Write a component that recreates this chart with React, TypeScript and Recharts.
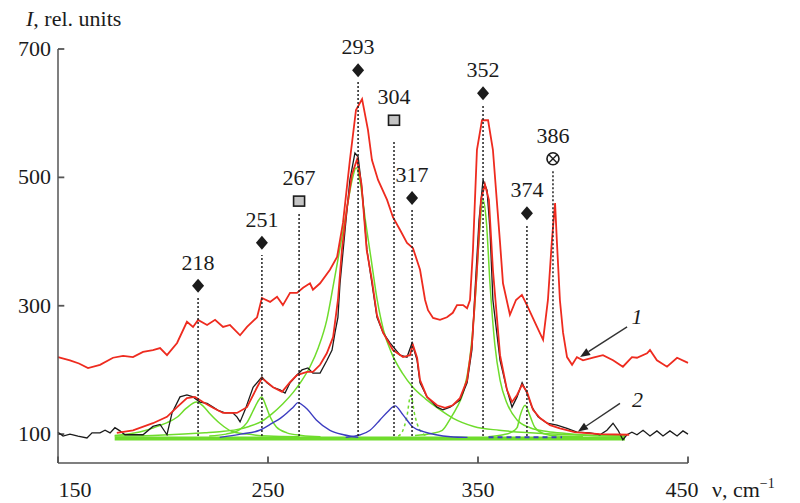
import React from 'react';
import { ComposedChart, Line, XAxis, YAxis, ReferenceLine, Scatter } from 'recharts';

const SERIF = "Liberation Serif, 'DejaVu Serif', 'Noto Serif', Tinos, serif";
const INK = '#1b1b1b';
const AXIS = '#555';
const RED = '#ee2b1f';
const GREEN = '#6fdc2c';
const BLUE = '#3c3cc0';

type Pt = [number, number];

// curve 1 (upper, red) — wavenumber, intensity
const curve1: Pt[] = [
  [150, 220], [155.7, 215], [160, 210], [164.3, 203], [170, 208], [176.2, 219], [181, 222], [185.7, 220],
  [190.5, 228], [195.2, 231], [198.6, 234], [201.9, 223], [206.7, 242], [211.4, 275], [214.3, 267], [216.7, 278],
  [221, 270], [224.8, 278], [228.6, 267], [231.9, 270], [236.7, 254], [240, 267], [244.8, 282], [247.1, 312],
  [251, 306], [254.3, 314], [257.1, 301], [260.5, 320], [263.8, 320], [266.7, 328], [270, 335], [271.4, 325],
  [274.8, 335], [279.5, 356], [282.9, 376], [285.7, 429], [289, 527], [291.9, 605], [294.8, 622], [297.6, 574],
  [299.5, 527], [302.4, 496], [306.7, 465], [309.5, 438], [312.9, 418], [316.2, 398], [319, 390], [322.4, 356],
  [324.8, 309], [326.2, 293], [328.6, 281], [331.9, 278], [335.2, 282], [338, 289], [340, 301], [342.9, 301],
  [344.8, 296], [346.2, 309], [347.6, 387], [349.5, 543], [351.9, 589], [354.8, 589], [357.1, 543], [360.5, 398],
  [361.9, 335], [365.2, 286], [368.1, 309], [370.9, 317], [373.3, 301], [378.1, 267], [381, 247], [383.3, 309],
  [385.2, 402], [386.7, 460], [387.6, 398], [389, 309], [390.5, 258], [392.4, 220], [394.8, 208], [397.1, 220],
  [400, 215], [404.8, 219], [409.5, 223], [414.3, 215], [419, 205], [423.3, 220], [425.7, 219], [430.5, 226],
  [431.9, 231], [435.2, 215], [440, 205], [444.8, 219], [450, 211],
];

// curve 2 (lower, black, measured)
const curve2: Pt[] = [
  [150, 103], [152.4, 97], [155.7, 100], [159.5, 97], [163.8, 94], [166.2, 102], [170, 102], [172.4, 106],
  [174.8, 102], [177.1, 110], [179.5, 105], [181.9, 99], [185.7, 99], [190.5, 99], [195.2, 112], [198.6, 115],
  [201.9, 99], [204.3, 133], [208.1, 158], [211.4, 161], [214.3, 158], [217.6, 150], [221, 148], [223.8, 142],
  [226.2, 137], [229.5, 133], [233.3, 133], [235.2, 127], [236.7, 119], [239, 137], [242.9, 173], [247.1, 189],
  [249.5, 180], [252.4, 173], [255.7, 169], [258.1, 164], [260.5, 180], [263.8, 192], [266.2, 200], [269, 203],
  [271.4, 195], [274.8, 195], [278.1, 215], [280.5, 231], [281.9, 258], [283.3, 282], [284.3, 335], [286.7, 418],
  [289, 496], [291.4, 538], [292.9, 532], [294.8, 480], [297.1, 387], [299.5, 335], [301.9, 282], [304.8, 258],
  [308.1, 242], [312.9, 223], [316.2, 220], [318.6, 242], [321, 215], [322.4, 180], [325.7, 158], [330.5, 142],
  [333.3, 138], [336.7, 142], [341.4, 153], [344.8, 180], [347.1, 231], [348.6, 325], [350.5, 434], [352.4, 496],
  [354.3, 480], [355.7, 418], [357.1, 309], [360.5, 215], [363.8, 169], [366.2, 142], [368.6, 158], [371, 180],
  [373.3, 164], [375.7, 142], [378.6, 127], [382.9, 117], [387.6, 114], [392.4, 109], [397.1, 103], [403.3, 102],
  [408.1, 99], [411.4, 106], [414.3, 117], [416.7, 106], [419, 91], [420.9, 99], [423.3, 103], [425.7, 99],
  [428.6, 106], [431.9, 97], [435.2, 105], [438.1, 97], [441.4, 105], [444.8, 97], [447.6, 105], [450, 100],
];

// fitted envelope of curve 2 (red)
const fitSum: Pt[] = [
  [178, 102], [185.7, 106], [195.2, 117], [201.9, 127], [206.7, 142], [211.4, 156], [215.2, 158], [219, 150],
  [223.8, 141], [228.6, 133], [235.2, 133], [240, 142], [244.8, 173], [247.1, 187], [249.5, 181], [252.4, 173],
  [256.7, 166], [260.5, 181], [263.8, 192], [268.6, 197], [271.4, 197], [274.8, 208], [278, 226], [281, 251],
  [283.3, 309], [285.2, 387], [287.5, 450], [290, 505], [292.4, 528], [294.5, 490], [297, 387], [299.5, 340],
  [301.9, 285], [304.8, 258], [309.5, 231], [314.3, 220], [317.6, 223], [319, 239], [321, 219], [322.4, 184],
  [325.7, 158], [330.5, 145], [334.3, 141], [338, 145], [341.4, 156], [344.8, 184], [347.1, 239], [349.5, 356],
  [351.4, 465], [353.3, 489], [355.2, 465], [357.1, 356], [360.5, 223], [363.8, 169], [366.2, 150], [368.6, 161],
  [371, 177], [373.3, 166], [376.2, 138], [379.5, 125], [384.3, 114], [389, 109], [396, 103], [408, 100], [422, 99],
];

// green components
const green218: Pt[] = [
  [177, 98], [185, 101], [192, 106], [198, 113], [202, 118], [207, 127], [211, 140], [216, 150], [219, 144],
  [222, 133], [227, 117], [233, 104], [240, 100], [250, 97], [265, 96],
];
const green251: Pt[] = [
  [222, 97], [230, 100], [236, 106], [240, 118], [243, 137], [245, 150], [247, 158], [249, 144], [251, 127],
  [254, 111], [259, 102], [266, 98], [275, 96],
];
const green293: Pt[] = [
  [177, 97], [195, 98], [210, 100], [220, 102], [228, 104], [235, 107], [241, 112], [247, 120], [252, 132],
  [257, 147], [262, 165], [266, 183], [270, 205], [274, 235], [278, 278], [281, 330], [284, 385], [287, 440],
  [290, 495], [292, 515], [294, 490], [296.5, 430], [299, 375], [302, 309], [305, 262], [309, 225], [314, 195],
  [319, 173], [325, 155], [331, 140], [338, 125], [348, 112], [360, 106], [375, 102], [395, 99], [420, 97],
];
const green317: Pt[] = [[312, 97], [314, 104], [316, 125], [318, 160], [320, 128], [322, 108], [325, 98]];
const green352: Pt[] = [
  [320, 98], [328, 101], [333, 106], [337, 125], [340, 142], [343, 165], [346, 215], [348.5, 302], [350.5, 404],
  [352.4, 465], [354, 430], [355.7, 335], [358, 240], [360.5, 184], [363.8, 148], [368.6, 122], [374.8, 110],
  [383, 104], [392, 101], [405, 98], [420, 97],
];
const green374: Pt[] = [
  [355, 96], [362, 99], [366, 103], [368.6, 110], [370, 128], [372.4, 145], [374.8, 128], [377, 111], [381, 101],
  [388, 97], [400, 96],
];
const greenBase: Pt[] = [[177, 93], [420, 93]];

// blue components
const blue267: Pt[] = [
  [227, 95], [237, 100], [246, 106], [252, 117], [256, 125], [259, 133], [262, 142], [264.3, 149], [266.5, 145],
  [268.6, 139], [273, 122], [279.5, 106], [286, 99], [293, 95],
];
const blue304: Pt[] = [
  [287, 95], [294, 99], [298.6, 106], [303.3, 122], [307, 135], [310.5, 144], [314.3, 130], [319, 111], [324, 104],
  [330, 99], [337, 96], [345, 95],
];
const blueFlat: Pt[] = [[355, 95], [390, 95]];

// peak annotations
const peakLabels = ['218', '251', '267', '293', '304', '317', '352', '374', '386'];
const peakNu = [216.7, 247.1, 264.8, 292.9, 310, 318.6, 352.4, 373.3, 385.7];
const peakMarker = ['diamond', 'diamond', 'square', 'diamond', 'square', 'diamond', 'diamond', 'diamond', 'otimes'];
const markerLevel = [331, 398, 463, 667, 589, 468, 631, 444, 529];
const dropTop = [314, 379, 446, 649, 558, 449, 613, 426, 511];
const dropBottom = [97, 97, 97, 97, 97, 97, 97, 97, 120];

// curve tags with arrows
const tagText = ['1', '2'];
const tagPos: Pt[] = [[425.7, 282], [426, 153]];
const arrowFrom: Pt[] = [[421, 267], [417.6, 148]];
const arrowTo: Pt[] = [[398.6, 220], [397.6, 104]];

const xTicks = [150, 250, 350, 450];
const yTicks = [100, 300, 500, 700];
const xMin = 150;
const yMin = 55;

const rows = (pts: Pt[]) => pts.map(([nu, v]) => ({ nu, v }));

const markerRows = peakLabels.map((label, i) => ({ nu: peakNu[i], v: markerLevel[i], label, kind: peakMarker[i] }));
const tagRows = tagText.map((t, i) => ({ nu: tagPos[i][0], v: tagPos[i][1], label: t }));

const PeakMarker = (props: any) => {
  const { cx, cy, payload } = props;
  let mark: React.ReactNode = null;
  if (payload.kind === 'diamond') {
    mark = <polygon points={`${cx},${cy - 7} ${cx + 6},${cy} ${cx},${cy + 7} ${cx - 6},${cy}`} fill={INK} />;
  } else if (payload.kind === 'square') {
    mark = <rect x={cx - 5.5} y={cy - 5} width={11} height={10} fill="#c4c4c4" stroke={INK} strokeWidth={1.6} />;
  } else {
    mark = (
      <g>
        <circle cx={cx} cy={cy} r={6} fill="#fff" stroke={INK} strokeWidth={1.6} />
        <line x1={cx - 4} y1={cy - 4} x2={cx + 4} y2={cy + 4} stroke={INK} strokeWidth={1.4} />
        <line x1={cx - 4} y1={cy + 4} x2={cx + 4} y2={cy - 4} stroke={INK} strokeWidth={1.4} />
      </g>
    );
  }
  return (
    <g>
      {mark}
      <text x={cx} y={cy - 16} textAnchor="middle" fontSize={22} fontFamily={SERIF} fill={INK}>
        {payload.label}
      </text>
    </g>
  );
};

const TagText = (props: any) => {
  const { cx, cy, payload } = props;
  return (
    <text x={cx} y={cy + 7} textAnchor="middle" fontSize={22} fontStyle="italic" fontFamily={SERIF} fill={INK}>
      {payload.label}
    </text>
  );
};

const Arrow = (props: any) => {
  const { x1, y1, x2, y2 } = props;
  const a = Math.atan2(y2 - y1, x2 - x1);
  const len = 10;
  const w = 4;
  const bx = x2 - len * Math.cos(a);
  const by = y2 - len * Math.sin(a);
  const px = -Math.sin(a) * w;
  const py = Math.cos(a) * w;
  return (
    <g>
      <line x1={x1} y1={y1} x2={bx} y2={by} stroke="#333" strokeWidth={1.4} />
      <polygon points={`${x2},${y2} ${bx + px},${by + py} ${bx - px},${by - py}`} fill="#222" />
    </g>
  );
};

const XTick = (props: any) => {
  const { x, y, payload } = props;
  const dx = payload.value === 150 ? 17 : payload.value === 450 ? -6 : 0;
  return (
    <text x={x + dx} y={y} dy={15} textAnchor="middle" fontSize={22} fontFamily={SERIF} fill={INK}>
      {payload.value}
    </text>
  );
};

const YTick = (props: any) => {
  const { x, y, payload } = props;
  return (
    <text x={x} y={y} dy={7} textAnchor="end" fontSize={22} fontFamily={SERIF} fill={INK}>
      {payload.value}
    </text>
  );
};

const component = (key: string, pts: Pt[], color: string, width = 1.5, dash?: string, type: any = 'monotone') => (
  <Line
    key={key}
    data={rows(pts)}
    dataKey="v"
    type={type}
    stroke={color}
    strokeWidth={width}
    strokeDasharray={dash}
    dot={false}
    activeDot={false}
    isAnimationActive={false}
  />
);

const App: React.FC = () => {
  return (
    <div style={{ position: 'absolute', left: 0, top: 0, width: 800, height: 503, background: '#fff', fontFamily: SERIF }}>
      <ComposedChart width={800} height={503} margin={{ top: 49, right: 112, bottom: 10, left: 0 }}>
        <XAxis
          dataKey="nu"
          type="number"
          domain={[150, 450]}
          ticks={xTicks}
          height={30}
          tickLine={false}
          tickSize={0}
          tickMargin={19}
          stroke={AXIS}
          strokeWidth={1.5}
          tick={<XTick />}
        />
        <YAxis
          type="number"
          domain={[55, 700]}
          ticks={yTicks}
          width={58}
          tickLine={false}
          tickSize={0}
          tickMargin={7}
          stroke={AXIS}
          strokeWidth={1.5}
          tick={<YTick />}
        />
        {xTicks.map((t) => (
          <ReferenceLine
            key={`xt${t}`}
            segment={[{ x: t, y: yMin }, { x: t, y: yMin + 10 }]}
            stroke={AXIS}
            strokeWidth={1.8}
            ifOverflow="visible"
          />
        ))}
        {yTicks.map((t) => (
          <ReferenceLine
            key={`yt${t}`}
            segment={[{ x: xMin, y: t }, { x: xMin + 3, y: t }]}
            stroke={AXIS}
            strokeWidth={1.8}
            ifOverflow="visible"
          />
        ))}
        {component('gb', greenBase, GREEN, 4, undefined, 'linear')}
        {component('g218', green218, GREEN)}
        {component('g251', green251, GREEN)}
        {component('g293', green293, GREEN)}
        {component('g317', green317, GREEN, 1.5, '3 3')}
        {component('g352', green352, GREEN)}
        {component('g374', green374, GREEN)}
        {component('b267', blue267, BLUE, 1.4)}
        {component('b304', blue304, BLUE, 1.4)}
        {component('bf', blueFlat, BLUE, 2, '5 4', 'linear')}
        {component('c2', curve2, INK, 1.3, undefined, 'linear')}
        {component('fit', fitSum, RED, 1.8, undefined, 'linear')}
        {component('c1', curve1, RED, 1.8, undefined, 'linear')}
        {peakNu.map((nu, i) => (
          <ReferenceLine
            key={`drop${i}`}
            segment={[{ x: nu, y: dropBottom[i] }, { x: nu, y: dropTop[i] }]}
            stroke="#222"
            strokeWidth={1.5}
            strokeDasharray="2 2"
          />
        ))}
        {arrowFrom.map((p, i) => (
          <ReferenceLine
            key={`arrow${i}`}
            segment={[{ x: p[0], y: p[1] }, { x: arrowTo[i][0], y: arrowTo[i][1] }]}
            shape={<Arrow />}
          />
        ))}
        <Scatter data={markerRows} dataKey="v" shape={<PeakMarker />} isAnimationActive={false} />
        <Scatter data={tagRows} dataKey="v" shape={<TagText />} isAnimationActive={false} />
      </ComposedChart>
      <svg width={800} height={503} style={{ position: 'absolute', left: 0, top: 0, pointerEvents: 'none' }}>
        <text x={26} y={26} fontSize={22} fontFamily={SERIF} fill={INK}>
          <tspan fontStyle="italic">I</tspan>, rel. units
        </text>
        <text x={712} y={497} fontSize={22} fontFamily={SERIF} fill={INK}>
          ν, cm<tspan dy={-9} fontSize={14}>−1</tspan>
        </text>
      </svg>
    </div>
  );
};

export default App;
